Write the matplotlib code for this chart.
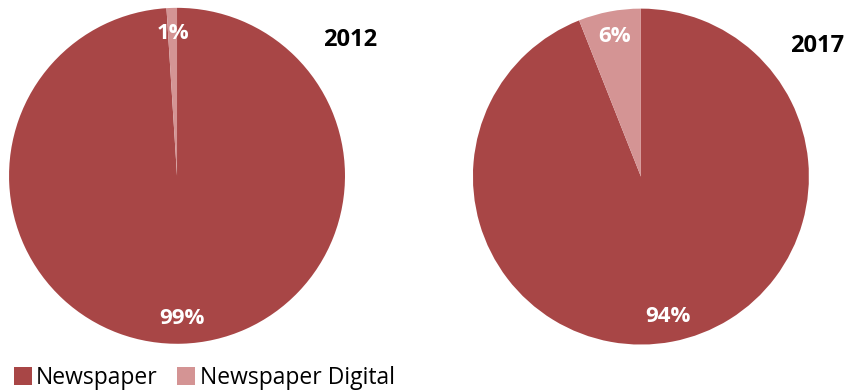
import matplotlib.pyplot as plt
from matplotlib.patches import Patch

plt.rcParams["font.family"] = ["Open Sans", "DejaVu Sans"]

years = ["2012", "2017"]
categories = ["Newspaper", "Newspaper Digital"]
shares_2012 = [99, 1]
shares_2017 = [94, 6]

colors = ["#A84646", "#D49494"]

fig = plt.figure(figsize=(8.49, 3.92), dpi=100)

# one axes per pie, placed by hand
ax1 = fig.add_axes([0.0106, 0.123, 0.3958, 0.857])
ax2 = fig.add_axes([0.557, 0.121, 0.3958, 0.857])

for ax, shares in zip([ax1, ax2], [shares_2012, shares_2017]):
    wedges, texts, autotexts = ax.pie(
        shares,
        colors=colors,
        startangle=90,
        counterclock=False,
        autopct="%d%%",
        pctdistance=0.85,
        wedgeprops=dict(linewidth=0),
        textprops=dict(color="white", fontsize=16, fontweight="bold"),
    )
    ax.set_xlim(-1, 1)
    ax.set_ylim(-1, 1)
    ax.set_aspect("equal")

fig.text(0.412, 0.898, years[0], ha="center", va="center",
         fontsize=17, fontweight="bold")
fig.text(0.963, 0.883, years[1], ha="center", va="center",
         fontsize=17, fontweight="bold")

handles = [Patch(facecolor=c, edgecolor="none") for c in colors]
fig.legend(
    handles,
    categories,
    loc="lower left",
    bbox_to_anchor=(0.0, -0.03),
    ncol=2,
    frameon=False,
    fontsize=16.5,
    handlelength=0.78,
    handleheight=0.78,
    handletextpad=0.2,
    columnspacing=0.85,
    borderaxespad=0.2,
)

plt.savefig("out.png", dpi=100)
plt.close()
